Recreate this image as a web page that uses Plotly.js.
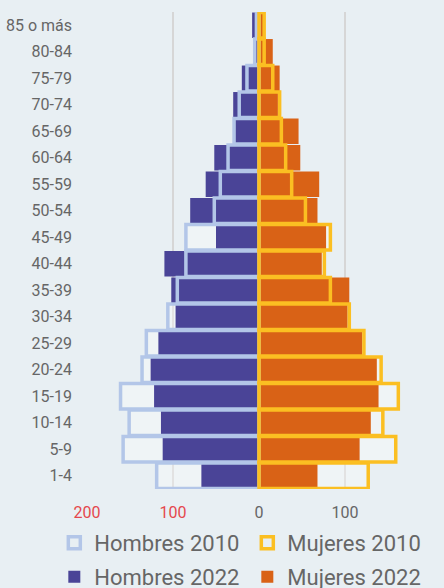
<!DOCTYPE html>
<html>
<head>
<meta charset="utf-8">
<script src="https://cdn.plot.ly/plotly-3.0.1.min.js"></script>
<style>html,body{margin:0;padding:0;background:#e8eff3;}#chart{width:444px;height:588px;}</style>
</head>
<body>
<div id="chart"></div>
<script>
const ageGroups = ['1-4','5-9','10-14','15-19','20-24','25-29','30-34','35-39','40-44','45-49','50-54','55-59','60-64','65-69','70-74','75-79','80-84','85 o más'];
const hombres2010 = [119, 158, 151, 161, 136, 131, 106, 95, 85, 85, 52, 45, 36, 29, 23, 14, 5, 3];
const hombres2022 = [67, 112, 114, 122, 126, 117, 97, 102, 110, 50, 80, 62, 52, 28, 30, 20, 4, 8];
const mujeres2010 = [127, 159, 144, 162, 142, 122, 105, 83, 76, 83, 54, 38, 31, 26, 24, 16, 6, 6];
const mujeres2022 = [68, 117, 130, 139, 137, 120, 103, 105, 73, 78, 68, 70, 48, 46, 22, 24, 16, 5];
const xTickVals = [-200, -100, 0, 100, 200];
const xTickText = ['<span style="color:#e5484d">200</span>', '<span style="color:#e5484d">100</span>', '0', '100', '200'];

const neg = a => a.map(v => -v);
const outlineFill = 'rgba(255,255,255,0.3)';

const traces = [
  {type:'bar', orientation:'h', name:'Hombres 2010', y:ageGroups, x:neg(hombres2010), showlegend:false,
   marker:{color:outlineFill, line:{width:0}}, hoverinfo:'none'},
  {type:'bar', orientation:'h', name:'Mujeres 2010', y:ageGroups, x:mujeres2010, showlegend:false,
   marker:{color:outlineFill, line:{width:0}}, hoverinfo:'none'},
  {type:'bar', orientation:'h', name:'Hombres 2022', y:ageGroups, x:neg(hombres2022), legend:'legend2', legendrank:1,
   marker:{color:'#4a4497', line:{width:0}}, hoverinfo:'none'},
  {type:'bar', orientation:'h', name:'Mujeres 2022', y:ageGroups, x:mujeres2022, legend:'legend2', legendrank:2,
   marker:{color:'#d96216', line:{width:0}}, hoverinfo:'none'},
  {type:'bar', orientation:'h', name:'Hombres 2010', y:ageGroups, x:neg(hombres2010), legend:'legend', legendrank:1,
   marker:{color:'rgba(0,0,0,0)', line:{color:'#b3c6e8', width:3.5}}, hoverinfo:'none'},
  {type:'bar', orientation:'h', name:'Mujeres 2010', y:ageGroups, x:mujeres2010, legend:'legend', legendrank:2,
   marker:{color:'rgba(0,0,0,0)', line:{color:'#fbbf22', width:3.5}}, hoverinfo:'none'}
];

const legendBase = {orientation:'h', xref:'paper', yref:'paper', x:-0.095, xanchor:'left', yanchor:'top',
  entrywidth:148, entrywidthmode:'pixels', font:{size:22, color:'#666666'}, bgcolor:'rgba(0,0,0,0)'};

const layout = {
  width:444, height:588,
  paper_bgcolor:'#e8eff3', plot_bgcolor:'#e8eff3',
  margin:{l:87, r:13, t:12, b:99, autoexpand:false},
  barmode:'overlay', bargap:0.04,
  font:{family:'Roboto, sans-serif', color:'#666666', size:16},
  xaxis:{range:[-200,200], tickvals:xTickVals, ticktext:xTickText, showgrid:true, gridcolor:'#d6d6d6', gridwidth:2,
         zeroline:false, showline:false, ticks:'', ticklabelstandoff:12, tickfont:{size:16, color:'#666666'}, fixedrange:true},
  yaxis:{type:'category', range:[-0.5,17.5], showgrid:false, zeroline:false, showline:false, ticks:'',
         ticklabelstandoff:14, tickfont:{size:16, color:'#666666'}, fixedrange:true},
  showlegend:true,
  legend:Object.assign({}, legendBase, {y:-0.069}),
  legend2:Object.assign({}, legendBase, {y:-0.1405})
};

Plotly.newPlot('chart', traces, layout, {displayModeBar:false, staticPlot:true});
</script>
</body>
</html>
